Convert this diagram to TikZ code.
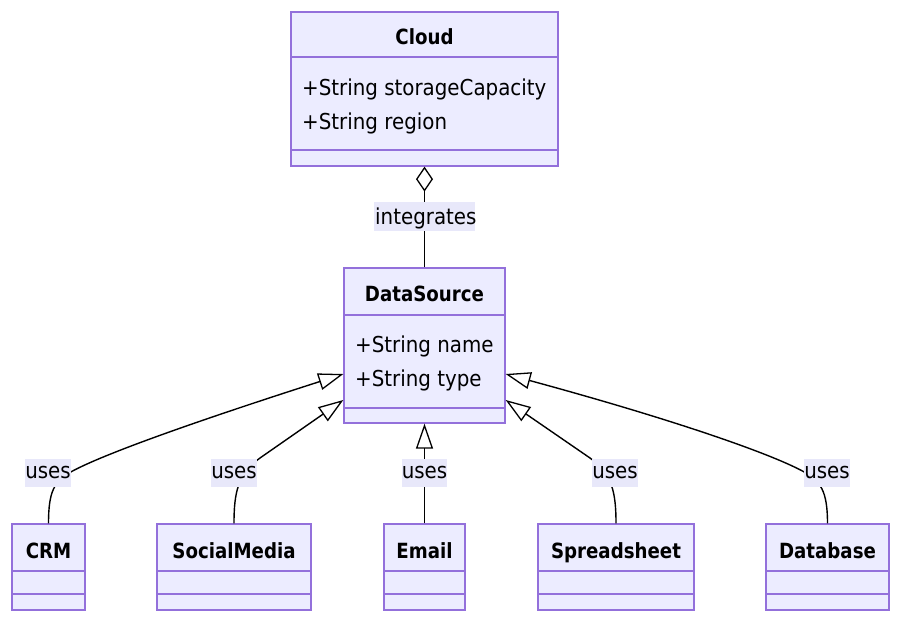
\documentclass[tikz,border=0pt]{standalone}
\usepackage{fontspec}
\setmainfont{DejaVu Sans}[FakeStretch=0.905, BoldFeatures={FakeStretch=0.87}]
\usetikzlibrary{arrows.meta}
\definecolor{boxfill}{RGB}{236,236,255}
\definecolor{boxline}{RGB}{147,112,219}
\definecolor{lblfill}{RGB}{232,232,250}
\begin{document}
\begin{tikzpicture}[x=1bp,y=-1bp,
  font=\fontsize{22}{26}\selectfont,
  classbox/.style={draw=boxline, fill=boxfill, line width=1.3bp, inner sep=0pt},
  divline/.style={draw=boxline, line width=1.3bp},
  hdr/.style={font=\fontsize{21}{25}\selectfont\bfseries, anchor=base, inner sep=0pt},
  attr/.style={anchor=base west, inner sep=0pt},
  edge/.style={draw=black, line width=1.4bp},
  gen/.style={edge, -{Triangle[open, length=25bp, width=17bp, line width=1.3bp]}},
  lblbox/.style={fill=lblfill, inner sep=0pt, minimum height=28bp, minimum width=43bp}
]
\fill[white] (0,0) rectangle (900,622);
\useasboundingbox (0,0) rectangle (900,622);

% Cloud
\node[classbox, minimum width=267bp, minimum height=154bp] (cloud) at (424.5,89) {};
\draw[divline] (cloud.west |- 0,57) -- (cloud.east |- 0,57);
\draw[divline] (cloud.west |- 0,150) -- (cloud.east |- 0,150);
\node[hdr] (cloudT) at (424.5,45) {Cloud};
\node[attr] (cloudA1) at (302,96) {+String storageCapacity};
\node[attr] (cloudA2) at (302,130) {+String region};

% DataSource
\node[classbox, minimum width=161bp, minimum height=155bp] (ds) at (424.5,345.5) {};
\draw[divline] (ds.west |- 0,315) -- (ds.east |- 0,315);
\draw[divline] (ds.west |- 0,408) -- (ds.east |- 0,408);
\node[hdr] (dsT) at (424.5,301) {DataSource};
\node[attr] (dsA1) at (355,352) {+String name};
\node[attr] (dsA2) at (355,386) {+String type};

% bottom classes
\node[classbox, minimum width=73bp, minimum height=86bp] (crm) at (48.5,567) {};
\node[classbox, minimum width=154bp, minimum height=86bp] (social) at (234,567) {};
\node[classbox, minimum width=81bp, minimum height=86bp] (email) at (424.5,567) {};
\node[classbox, minimum width=156bp, minimum height=86bp] (spread) at (616,567) {};
\node[classbox, minimum width=123bp, minimum height=86bp] (db) at (827.5,567) {};
\foreach \n in {crm,social,email,spread,db}{
  \draw[divline] (\n.west |- 0,571) -- (\n.east |- 0,571);
  \draw[divline] (\n.west |- 0,594) -- (\n.east |- 0,594);
}
\node[hdr] (crmT) at (48.5,558) {CRM};
\node[hdr] (socialT) at (234,558) {SocialMedia};
\node[hdr] (emailT) at (424.5,558) {Email};
\node[hdr] (spreadT) at (616,558) {Spreadsheet};
\node[hdr] (dbT) at (827.5,558) {Database};

% edges
\draw[edge, -{Diamond[open, length=25bp, width=17bp, line width=1.3bp]}] (ds.north) -- (cloud.south);
\draw[gen] (crm.north) .. controls (48.5,490) and (55,482) .. (69,473)
  .. controls (100,455) and (200,420) .. (ds.west |- 0,374);
\draw[gen] (social.north) .. controls (234,492) and (238,474) .. (260,458) -- (ds.west |- 0,400);
\draw[gen] (email.north) -- (ds.south);
\draw[gen] (spread.north) .. controls (616,492) and (612,474) .. (590,458) -- (ds.east |- 0,400);
\draw[gen] (db.north) .. controls (827.5,490) and (820,482) .. (806,473)
  .. controls (775,455) and (675,420) .. (ds.east |- 0,374);

% labels
\node[lblbox, minimum width=101bp] (intL) at (424.5,216.5) {};
\begin{scope}
  \clip (intL.south west) rectangle (intL.north east);
  \node[attr] (intT) at (375,225) {integrates};
\end{scope}
\node[lblbox] (l1) at (48,473) {uses};
\node[lblbox] (l2) at (234,473) {uses};
\node[lblbox] (l3) at (424.5,473) {uses};
\node[lblbox] (l4) at (615,473) {uses};
\node[lblbox] (l5) at (827,473) {uses};
\end{tikzpicture}
\end{document}
